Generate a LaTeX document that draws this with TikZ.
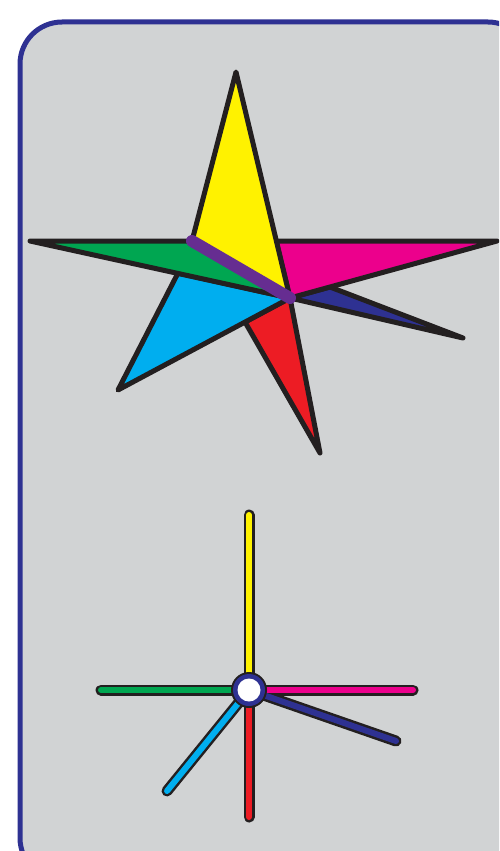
\documentclass[tikz,border=0pt]{standalone}
\definecolor{bg}{HTML}{D1D3D4}
\definecolor{frame}{HTML}{2E3192}
\definecolor{cyel}{HTML}{FFF200}
\definecolor{cgrn}{HTML}{00A651}
\definecolor{cmag}{HTML}{EC008C}
\definecolor{cnav}{HTML}{2E3192}
\definecolor{ccya}{HTML}{00AEEF}
\definecolor{cred}{HTML}{ED1C24}
\definecolor{cpur}{HTML}{662D91}
\definecolor{outl}{HTML}{231F20}
\begin{document}
\begin{tikzpicture}[x=1pt,y=-1pt,
  blade/.style={draw=outl,line width=5pt,line join=round},
  spokeout/.style={draw=outl,line width=11pt,line cap=round},
  spokein/.style={line width=6pt,line cap=round}]
\useasboundingbox (0,0) rectangle (499,851);
\begin{scope}
\clip (0,0) rectangle (499,851);
\draw[fill=bg,draw=frame,line width=5pt,rounded corners=42pt] (20,22) rectangle (530,880);
\end{scope}
% star points
\coordinate (C) at (290,298);
\coordinate (T) at (236,72);
\coordinate (A) at (192,241);
\coordinate (L) at (30,241);
\coordinate (M) at (276,241);
\coordinate (R) at (497,241);
\coordinate (P) at (330,287);
\coordinate (N) at (463,338);
\coordinate (Q) at (178,273);
\coordinate (K) at (118,390);
\coordinate (S) at (245,322);
\coordinate (D) at (320,453);
\begin{scope}
\clip (0,0) rectangle (499,851);
\draw[blade,fill=cnav] (P) -- (N) -- (C) -- cycle;
\draw[blade,fill=cmag] (M) -- (R) -- (C) -- cycle;
\draw[blade,fill=cred] (S) -- (D) -- (C) -- cycle;
\draw[blade,fill=ccya] (Q) -- (K) -- (C) -- cycle;
\draw[blade,fill=cgrn] (L) -- (A) -- (C) -- cycle;
\draw[blade,fill=cyel] (T) -- (A) -- (C) -- cycle;
\draw[cpur,line width=12pt,line cap=round] (A) -- (C);
\end{scope}
% lower figure
\coordinate (O) at (249,690);
\coordinate (e1) at (249,515);
\coordinate (e2) at (101,690);
\coordinate (e3) at (413,690);
\coordinate (e4) at (396,741);
\coordinate (e5) at (167,791);
\coordinate (e6) at (249,817);
\foreach \e in {e1,e2,e3,e4,e5,e6} \draw[spokeout] (O) -- (\e);
\draw[spokein,cyel] (O) -- (e1);
\draw[spokein,cgrn] (O) -- (e2);
\draw[spokein,cmag] (O) -- (e3);
\draw[spokein,cnav] (O) -- (e4);
\draw[spokein,ccya] (O) -- (e5);
\draw[spokein,cred] (O) -- (e6);
\node[circle,minimum size=36pt,inner sep=0pt,fill=outl] (hub) at (O) {};
\node[circle,minimum size=32pt,inner sep=0pt,fill=cnav] at (O) {};
\node[circle,minimum size=23pt,inner sep=0pt,fill=white] at (O) {};
\end{tikzpicture}
\end{document}
